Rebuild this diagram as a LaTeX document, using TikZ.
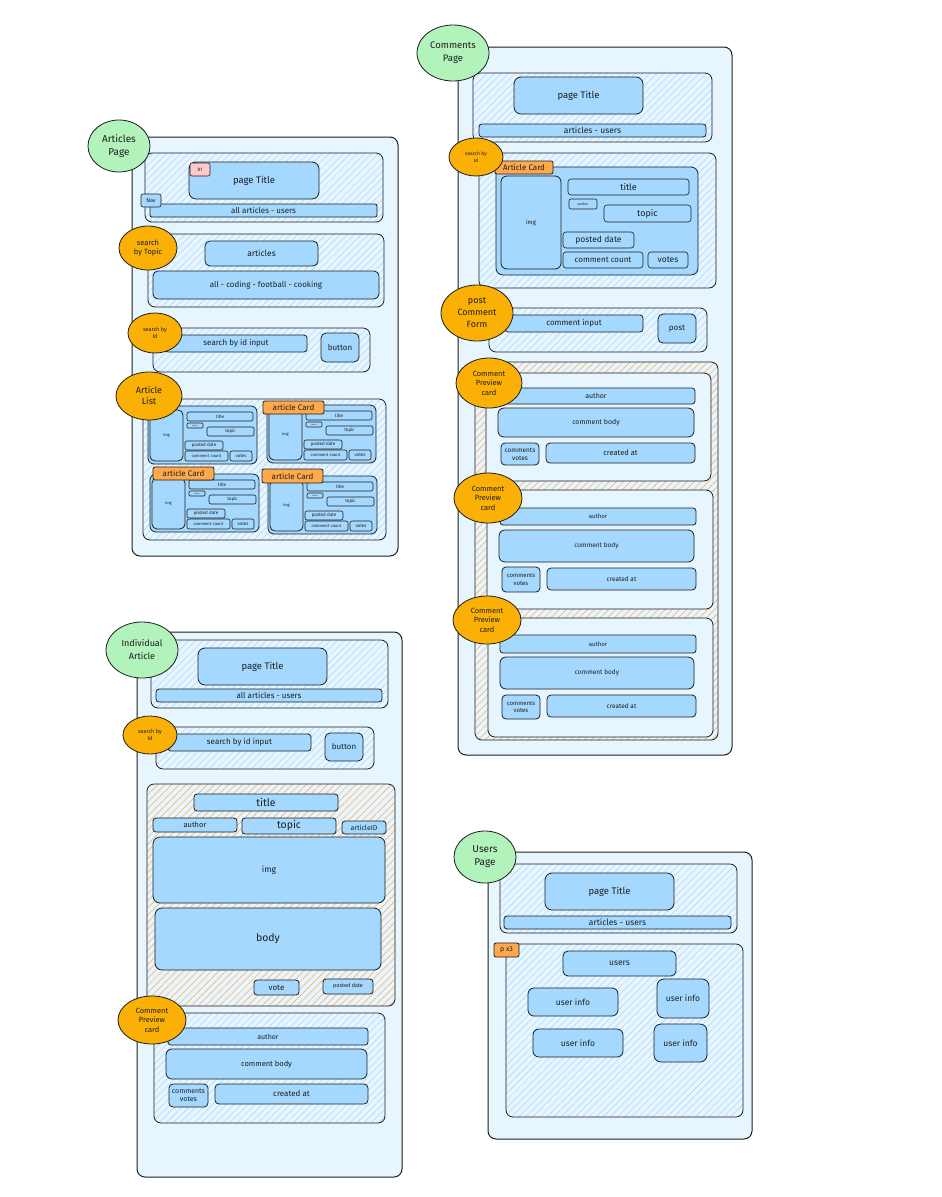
\documentclass[tikz,border=0pt]{standalone}
\usepackage{fontspec}
\setmainfont{Fira Sans}
\usetikzlibrary{shapes.geometric,patterns.meta}
\definecolor{ink}{HTML}{1E1E1E}
\definecolor{pagebg}{HTML}{E7F5FF}
\definecolor{boxbg}{HTML}{A5D8FF}
\definecolor{hatchb}{HTML}{A5D8FF}
\definecolor{hatcho}{HTML}{FFA94D}
\definecolor{greenel}{HTML}{B2F2BB}
\definecolor{orangeel}{HTML}{FAB005}
\definecolor{tagor}{HTML}{FFA94D}
\definecolor{pinktag}{HTML}{FFC9C9}
\newcommand\fs[2]{\fontsize{#1}{#2}\selectfont}
\newcommand\rbox[7]{\node[#1,anchor=north west,minimum width={((#5)-(#3))*1pt},minimum height={((#6)-(#4))*1pt}] (#2) at ({#3},{#4}) {#7};}
\newcommand\elnode[7]{\node[#1,minimum width={2*(#5)*1pt},minimum height={2*(#6)*1pt}] (#2) at (#3,#4) {#7};}
\newcommand\acard[3]{%
\begin{scope}[shift={(#2,#3)}]
\rbox{bx,rounded corners=6pt}{#1c}{0}{0}{109}{58}{}
\rbox{bx,font=\fs{4}{5}}{#1img}{2}{4}{35}{55}{img}
\rbox{sbx,font=\fs{4.5}{5}}{#1ti}{39}{6}{105}{15}{title}
\rbox{sbx,rounded corners=1pt,font=\fs{1.8}{2}}{#1au}{39}{17}{55}{22}{author}
\rbox{sbx,font=\fs{4.5}{5}}{#1to}{59}{21}{106}{30}{topic}
\rbox{sbx,font=\fs{4.5}{5}}{#1pd}{37}{35}{75}{44}{posted date}
\rbox{sbx,font=\fs{4.2}{5}}{#1cc}{37}{45}{80}{55}{comment count}
\rbox{sbx,font=\fs{4.5}{5}}{#1vo}{82}{45}{104}{55}{votes}
\end{scope}}
\tikzset{
 every node/.style={inner sep=0pt,outer sep=0pt,text=ink},
 pg/.style={draw=ink,line width=1pt,rounded corners=8pt,fill=pagebg},
 bx/.style={draw=ink,line width=0.8pt,rounded corners=5pt,fill=boxbg},
 sbx/.style={draw=ink,line width=0.6pt,rounded corners=2pt,fill=boxbg},
 hb/.style={draw=ink,line width=0.8pt,rounded corners=7pt,pattern={Lines[angle=45,distance=5pt,line width=0.5pt]},pattern color=hatchb},
 ho/.style={draw=ink,line width=0.8pt,rounded corners=7pt,pattern={Lines[angle=45,distance=5pt,line width=0.5pt]},pattern color=hatcho},
 cardbg/.style={draw=ink,line width=0.8pt,rounded corners=7pt,fill=pagebg},
 tagbox/.style={draw=ink,line width=0.8pt,rounded corners=2pt,fill=tagor},
 gel/.style={ellipse,draw=ink,line width=0.8pt,fill=greenel,align=center},
 oel/.style={ellipse,draw=ink,line width=0.8pt,fill=orangeel,align=center},
}
\begin{document}
\begin{tikzpicture}[x=1pt,y=-1pt]
\fill[white] (0,0) rectangle (942,1197);
\useasboundingbox (0,0) rectangle (942,1197);

% ===== Articles Page =====
\rbox{pg}{ap}{132}{137}{398}{556}{}
\rbox{hb}{apH}{145}{153}{383}{222}{}
\rbox{bx,rounded corners=7pt,font=\fs{9.5}{11}}{apT}{189}{162}{319}{199}{page Title}
\rbox{sbx,fill=pinktag,font=\fs{5}{6}}{apHone}{190}{163}{210}{176}{h1}
\rbox{bx,rounded corners=2pt,font=\fs{8}{9}}{apNavbar}{150}{204}{377}{217}{all articles - users}
\rbox{sbx,font=\fs{5.5}{6}}{apNav}{141}{194}{161}{207}{Nav}
\rbox{hb}{apS}{148}{234}{384}{307}{}
\rbox{bx,font=\fs{8.5}{9}}{apA}{205}{241}{318}{266}{articles}
\rbox{bx,font=\fs{8}{9}}{apTopics}{153}{271}{379}{299}{all - coding - football - cooking}
\elnode{oel,font=\fs{7.5}{9.5}}{apSel}{148}{248}{29}{22}{search\\by Topic}
\rbox{hb}{apI}{153}{328}{370}{372}{}
\rbox{bx,rounded corners=3pt,font=\fs{8}{9}}{apIn}{165}{335}{307}{352}{search by id input}
\rbox{bx,font=\fs{8}{9}}{apBtn}{321}{333}{359}{362}{button}
\elnode{oel,font=\fs{5.5}{7}}{apIel}{155}{333}{27}{20}{search by\\Id}
\rbox{hb}{apL}{143}{399}{386}{540}{}
\acard{ca}{148}{406}
\acard{cb}{267}{405}
\acard{cc}{150}{474}
\acard{cd}{268}{476}
\rbox{tagbox,font=\fs{8}{9}}{tagb}{263}{401}{324}{414}{article Card}
\rbox{tagbox,font=\fs{8}{9}}{tagc}{153}{467}{214}{480}{article Card}
\rbox{tagbox,font=\fs{8}{9}}{tagd}{262}{469}{323}{483}{article Card}
\elnode{oel,font=\fs{9}{11}}{apLel}{149}{396}{33}{24}{Article\\List}
\elnode{gel,font=\fs{10}{13}}{apel}{119}{146}{31}{26}{Articles\\Page}

% ===== Comments Page =====
\rbox{pg}{cp}{458}{47}{732}{755}{}
\rbox{hb}{cpH}{473}{73}{712}{142}{}
\rbox{bx,rounded corners=7pt,font=\fs{9.5}{11}}{cpT}{514}{77}{643}{114}{page Title}
\rbox{bx,rounded corners=3pt,font=\fs{8.5}{9}}{cpNav}{479}{124}{706}{137}{articles - users}
\rbox{hb}{cpS}{479}{153}{716}{288}{}
\rbox{bx,rounded corners=7pt}{cpC}{496}{167}{698}{275}{}
\rbox{bx,rounded corners=6pt,font=\fs{6}{7}}{cpImg}{501}{176}{561}{269}{img}
\rbox{sbx,rounded corners=3pt,font=\fs{9}{10}}{cpTi}{568}{179}{689}{195}{title}
\rbox{sbx,font=\fs{3.5}{4}}{cpAu}{569}{199}{597}{209}{author}
\rbox{sbx,rounded corners=3pt,font=\fs{9}{10}}{cpTo}{604}{205}{691}{222}{topic}
\rbox{sbx,rounded corners=3pt,font=\fs{8.5}{9}}{cpPd}{563}{232}{634}{248}{posted date}
\rbox{sbx,rounded corners=3pt,font=\fs{8}{9}}{cpCc}{563}{252}{643}{268}{comment count}
\rbox{sbx,rounded corners=3pt,font=\fs{8.5}{9}}{cpVo}{648}{252}{688}{268}{votes}
\rbox{tagbox,font=\fs{8}{9}}{cpTag}{495}{161}{553}{174}{Article Card}
\elnode{oel,font=\fs{5}{6.5}}{cpSel}{476}{157}{27}{19}{search by\\Id}
\rbox{hb}{cpF}{489}{308}{707}{352}{}
\rbox{bx,rounded corners=3pt,font=\fs{8}{9}}{cpIn}{505}{315}{643}{332}{comment input}
\rbox{bx,font=\fs{8}{9}}{cpPost}{658}{314}{696}{343}{post}
\elnode{oel,font=\fs{9}{12}}{cpFel}{477}{313}{36}{28}{post\\Comment\\Form}
\rbox{ho}{cpL}{475}{362}{718}{740}{}
% comment card 1
\rbox{cardbg}{cca}{486}{373}{711}{481}{}
\rbox{bx,rounded corners=3pt,font=\fs{7}{8}}{ccaAu}{497}{388}{695}{404}{author}
\rbox{bx,rounded corners=6pt,font=\fs{7}{8}}{ccaBo}{498}{408}{694}{437}{comment body}
\rbox{bx,rounded corners=4pt,align=center,font=\fs{6.5}{8}}{ccaCv}{501}{443}{539}{465}{comments\\votes}
\rbox{bx,rounded corners=4pt,font=\fs{7.5}{8}}{ccaCr}{546}{443}{695}{463}{created at}
% comment card 2
\rbox{cardbg}{ccb}{487}{490}{713}{609}{}
\rbox{bx,rounded corners=3pt,font=\fs{6}{7}}{ccbAu}{500}{508}{696}{525}{author}
\rbox{bx,rounded corners=6pt,font=\fs{6.5}{7}}{ccbBo}{499}{530}{694}{562}{comment body}
\rbox{bx,rounded corners=4pt,align=center,font=\fs{6}{7.5}}{ccbCv}{502}{567}{540}{592}{comments\\votes}
\rbox{bx,rounded corners=4pt,font=\fs{6.5}{7}}{ccbCr}{547}{568}{696}{590}{created at}
% comment card 3
\rbox{cardbg}{ccc}{488}{618}{713}{737}{}
\rbox{bx,rounded corners=3pt,font=\fs{6}{7}}{cccAu}{500}{635}{696}{653}{author}
\rbox{bx,rounded corners=6pt,font=\fs{6.5}{7}}{cccBo}{500}{657}{694}{689}{comment body}
\rbox{bx,rounded corners=4pt,align=center,font=\fs{6}{7.5}}{cccCv}{502}{695}{540}{719}{comments\\votes}
\rbox{bx,rounded corners=4pt,font=\fs{6.5}{7}}{cccCr}{547}{695}{696}{717}{created at}
\elnode{oel,font=\fs{7.5}{9.5}}{ccaEl}{489}{383}{33}{25}{Comment\\Preview\\card}
\elnode{oel,font=\fs{7.5}{9.5}}{ccbEl}{488}{498}{34}{25}{Comment\\Preview\\card}
\elnode{oel,font=\fs{7.5}{9.5}}{cccEl}{487}{620}{34}{24}{Comment\\Preview\\card}
\elnode{gel,font=\fs{9.5}{13}}{cpEl}{453}{53}{36}{28}{Comments\\Page}

% ===== Individual Article =====
\rbox{pg}{ia}{137}{632}{402}{1177}{}
\rbox{hb}{iaH}{151}{640}{388}{708}{}
\rbox{bx,rounded corners=7pt,font=\fs{9.5}{11}}{iaT}{198}{648}{327}{685}{page Title}
\rbox{bx,rounded corners=3pt,font=\fs{8}{9}}{iaNav}{156}{689}{382}{702}{all articles - users}
\rbox{hb}{iaS}{156}{727}{374}{769}{}
\rbox{bx,rounded corners=3pt,font=\fs{8}{9}}{iaIn}{168}{734}{311}{751}{search by id input}
\rbox{bx,font=\fs{8}{9}}{iaBtn}{325}{733}{363}{761}{button}
\elnode{oel,font=\fs{5.5}{7}}{iaSel}{150}{735}{27}{19}{search by\\Id}
\rbox{ho}{iaA}{147}{784}{395}{1006}{}
\rbox{bx,rounded corners=3pt,font=\fs{10.5}{11}}{iaTi}{194}{794}{338}{811}{title}
\rbox{bx,rounded corners=3pt,font=\fs{7.5}{8}}{iaAu}{153}{818}{237}{832}{author}
\rbox{bx,rounded corners=3pt,font=\fs{10.5}{11}}{iaTo}{242}{818}{336}{834}{topic}
\rbox{bx,rounded corners=3pt,font=\fs{7}{8}}{iaId}{342}{821}{386}{834}{articleID}
\rbox{bx,rounded corners=7pt,font=\fs{8.5}{9}}{iaImg}{153}{837}{385}{903}{img}
\rbox{bx,rounded corners=7pt,font=\fs{10.5}{11}}{iaBody}{155}{908}{381}{970}{body}
\rbox{bx,rounded corners=3pt,font=\fs{8}{9}}{iaVote}{254}{980}{299}{995}{vote}
\rbox{bx,rounded corners=3pt,font=\fs{5.5}{6}}{iaPd}{323}{979}{373}{994}{posted date}
\rbox{hb}{iaC}{154}{1013}{385}{1123}{}
\rbox{bx,rounded corners=3pt,font=\fs{7}{8}}{iaCAu}{168}{1028}{368}{1045}{author}
\rbox{bx,rounded corners=6pt,font=\fs{7.5}{8}}{iaCBo}{166}{1049}{367}{1079}{comment body}
\rbox{bx,rounded corners=4pt,align=center,font=\fs{7}{8}}{iaCCv}{169}{1084}{208}{1107}{comments\\votes}
\rbox{bx,rounded corners=4pt,font=\fs{8}{9}}{iaCCr}{215}{1084}{368}{1104}{created at}
\elnode{oel,font=\fs{7.5}{9.5}}{iaCEl}{152}{1020}{34}{24}{Comment\\Preview\\card}
\elnode{gel,font=\fs{9}{13}}{iaEl}{142}{650}{36}{28}{Individual\\Article}

% ===== Users Page =====
\rbox{pg}{up}{488}{852}{752}{1139}{}
\rbox{hb}{upH}{500}{864}{737}{933}{}
\rbox{bx,rounded corners=7pt,font=\fs{9.5}{11}}{upT}{545}{873}{674}{910}{page Title}
\rbox{bx,rounded corners=3pt,font=\fs{8.5}{9}}{upNav}{504}{916}{731}{929}{articles - users}
\rbox{hb}{upS}{506}{944}{743}{1117}{}
\rbox{tagbox,font=\fs{7}{8}}{upTag}{494}{943}{519}{957}{p x3}
\rbox{bx,font=\fs{8.5}{9}}{upUsers}{563}{951}{676}{976}{users}
\rbox{bx,rounded corners=6pt,font=\fs{8.5}{9}}{upUa}{528}{988}{618}{1016}{user info}
\rbox{bx,rounded corners=7pt,font=\fs{8.5}{9}}{upUb}{657}{979}{709}{1018}{user info}
\rbox{bx,rounded corners=6pt,font=\fs{8.5}{9}}{upUc}{533}{1029}{623}{1057}{user info}
\rbox{bx,rounded corners=7pt,font=\fs{8.5}{9}}{upUd}{654}{1024}{707}{1062}{user info}
\elnode{gel,font=\fs{10}{13}}{upEl}{485}{857}{31}{26}{Users\\Page}
\end{tikzpicture}
\end{document}
